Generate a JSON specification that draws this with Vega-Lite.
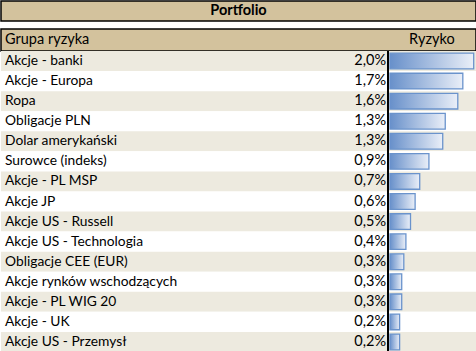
{
  "$schema": "https://vega.github.io/schema/vega-lite/v6.json",
  "padding": 0,
  "spacing": 8,
  "bounds": "flush",
  "config": {
    "view": {"stroke": null},
    "locale": {"number": {"decimal": ",", "thousands": " ", "grouping": [3], "currency": ["", " zł"]}},
    "text": {"font": "Lato", "fontSize": 14, "color": "black"}
  },
  "datasets": {
    "ryzyko": [
      {"nr": 1, "grupa": "Akcje - banki", "ryzyko": 0.0200},
      {"nr": 2, "grupa": "Akcje - Europa", "ryzyko": 0.0174},
      {"nr": 3, "grupa": "Ropa", "ryzyko": 0.0162},
      {"nr": 4, "grupa": "Obligacje PLN", "ryzyko": 0.0132},
      {"nr": 5, "grupa": "Dolar amerykański", "ryzyko": 0.0126},
      {"nr": 6, "grupa": "Surowce (indeks)", "ryzyko": 0.0093},
      {"nr": 7, "grupa": "Akcje - PL MSP", "ryzyko": 0.0071},
      {"nr": 8, "grupa": "Akcje JP", "ryzyko": 0.0060},
      {"nr": 9, "grupa": "Akcje US - Russell", "ryzyko": 0.0049},
      {"nr": 10, "grupa": "Akcje US - Technologia", "ryzyko": 0.0038},
      {"nr": 11, "grupa": "Obligacje CEE (EUR)", "ryzyko": 0.0033},
      {"nr": 12, "grupa": "Akcje rynków wschodzących", "ryzyko": 0.0028},
      {"nr": 13, "grupa": "Akcje - PL WIG 20", "ryzyko": 0.0028},
      {"nr": 14, "grupa": "Akcje - UK", "ryzyko": 0.0023},
      {"nr": 15, "grupa": "Akcje US - Przemysł", "ryzyko": 0.0023}
    ],
    "tytul": [{"tytul": "Portfolio"}],
    "naglowek": [{"kolumna": "Grupa ryzyka", "typ": "nazwa"}, {"kolumna": "Ryzyko", "typ": "wartosc"}]
  },
  "vconcat": [
    {
      "width": 475,
      "height": 20,
      "view": {"fill": "#D3C29D", "stroke": "black", "strokeWidth": 1.5},
      "data": {"name": "tytul"},
      "mark": {"type": "text", "fontWeight": "bold", "fontSize": 14.5},
      "encoding": {"text": {"field": "tytul"}}
    },
    {
      "spacing": 0,
      "bounds": "flush",
      "vconcat": [
        {
          "width": 475,
          "height": 22,
          "view": {"fill": "#D3C29D", "stroke": "black", "strokeWidth": 1.5},
          "data": {"name": "naglowek"},
          "layer": [
            {
              "transform": [{"filter": "datum.typ == 'nazwa'"}],
              "mark": {"type": "text", "align": "left", "fontSize": 14.5},
              "encoding": {"x": {"value": 4}, "text": {"field": "kolumna"}}
            },
            {
              "transform": [{"filter": "datum.typ == 'wartosc'"}],
              "mark": {"type": "text", "align": "center", "fontSize": 14.5},
              "encoding": {
                "x": {"datum": 0.01, "type": "quantitative", "scale": {"domain": [0, 0.02], "range": [389, 472.7]}, "axis": null},
                "text": {"field": "kolumna"}
              }
            }
          ]
        },
        {
          "width": 476,
          "height": 301,
          "data": {"name": "ryzyko"},
          "encoding": {
            "y": {"field": "grupa", "type": "nominal", "sort": null, "axis": null, "scale": {"paddingInner": 0, "paddingOuter": 0}}
          },
          "layer": [
            {
              "mark": {"type": "rect"},
              "encoding": {
                "fill": {"condition": {"test": "datum.nr % 2 == 1", "value": "#EDEADF"}, "value": "#FFFFFF"}
              }
            },
            {
              "mark": {"type": "rule", "color": "black", "strokeWidth": 1.5, "xOffset": -2},
              "encoding": {
                "x": {"datum": 0, "type": "quantitative", "scale": {"domain": [0, 0.02], "range": [389, 472.7]}, "axis": null},
                "y": null
              }
            },
            {
              "mark": {
                "type": "bar",
                "height": {"band": 0.78},
                "stroke": "#6A93CC",
                "strokeWidth": 1.3,
                "fill": {"gradient": "linear", "x1": 0, "x2": 1, "y1": 0, "y2": 0,
                  "stops": [{"offset": 0, "color": "#6890CA"}, {"offset": 1, "color": "#EAEFF8"}]}
              },
              "encoding": {
                "x": {"field": "ryzyko", "type": "quantitative", "scale": {"domain": [0, 0.02], "range": [389, 472.7]}, "axis": null}
              }
            },
            {
              "mark": {"type": "text", "align": "right", "fontSize": 14.5, "xOffset": -4},
              "encoding": {
                "x": {"datum": 0, "type": "quantitative"},
                "text": {"field": "ryzyko", "type": "quantitative", "format": ".1%"}
              }
            },
            {
              "mark": {"type": "text", "align": "left", "fontSize": 13.8},
              "encoding": {
                "x": {"value": 4},
                "text": {"field": "grupa"}
              }
            }
          ]
        }
      ]
    }
  ]
}
